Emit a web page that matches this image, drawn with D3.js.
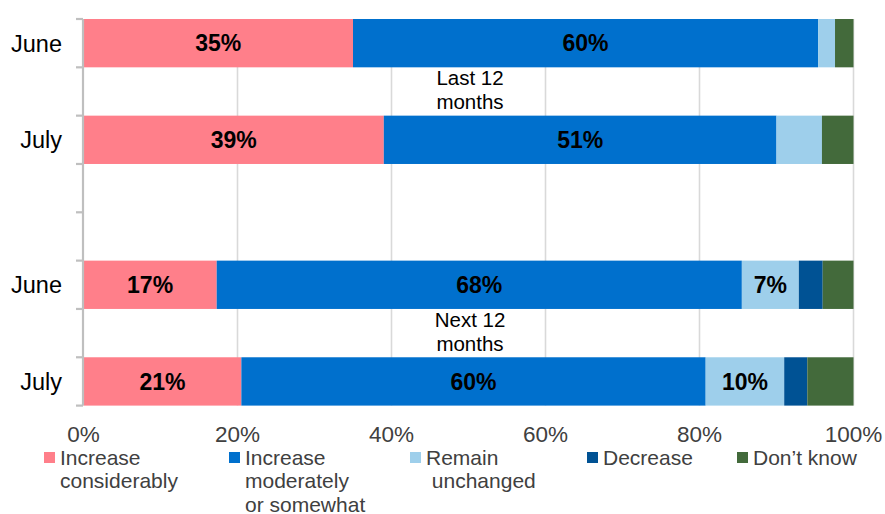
<!DOCTYPE html>
<html><head><meta charset="utf-8">
<script src="https://cdn.jsdelivr.net/npm/d3@7"></script>
<style>html,body{margin:0;padding:0;background:#fff;}svg{display:block;font-family:"Liberation Sans",Arial,sans-serif;}</style>
</head><body><svg id="c" width="885" height="514"></svg>
<script>
// ---- data ----
const rowCategories = ["June (last)", "Last 12 months", "July (last)", "gap a", "gap b", "June (next)", "Next 12 months", "July (next)"];
const barRows = ["June (last)", "July (last)", "June (next)", "July (next)"];
const barRowLabels = ["June", "July", "June", "July"];
const periodLabels = [["Last 12", "months"], ["Next 12", "months"]];
const periodRows = ["Last 12 months", "Next 12 months"];
const seriesNames = ["Increase considerably", "Increase moderately or somewhat", "Remain unchanged", "Decrease", "Don’t know"];
const legendLines = [["Increase", "considerably"], ["Increase", "moderately", "or somewhat"], ["Remain", " unchanged"], ["Decrease"], ["Don’t know"]];
const increaseConsiderably = [35, 39, 17.3, 20.5];
const increaseModerately   = [60.4, 51, 68.2, 60.3];
const remainUnchanged      = [2.2, 5.9, 7.4, 10.2];
const decrease             = [0, 0, 3.1, 3.0];
const dontKnow             = [2.4, 4.1, 4.0, 6.0];
const xTicks = [0, 20, 40, 60, 80, 100];
const colors = ["#ff7f8a", "#0070cd", "#9ecfeb", "#005294", "#436a3b"];

// ---- build table ----
const seriesValues = [increaseConsiderably, increaseModerately, remainUnchanged, decrease, dontKnow];
const table = barRows.map((r, i) => {
  const o = {row: r};
  seriesNames.forEach((s, j) => o[s] = seriesValues[j][i]);
  return o;
});

const svg = d3.select("#c");
const x = d3.scaleLinear().domain([0, 100]).range([83.5, 853.5]);
const y = d3.scaleBand().domain(rowCategories).range([19, 405.6]).padding(0);
const color = d3.scaleOrdinal().domain(seriesNames).range(colors);

// gridlines
svg.append("g").selectAll("line").data(xTicks.filter(d => d > 0)).join("line")
  .attr("x1", d => x(d)).attr("x2", d => x(d))
  .attr("y1", y.range()[0]).attr("y2", y.range()[1])
  .attr("stroke", "#d9d9d9").attr("stroke-width", 1.6);

// bars
const stacked = d3.stack().keys(seriesNames)(table);
const g = svg.append("g");
stacked.forEach(layer => {
  g.append("g").selectAll("rect").data(layer).join("rect")
    .attr("x", d => x(d[0]))
    .attr("width", d => x(d[1]) - x(d[0]))
    .attr("y", d => y(d.data.row))
    .attr("height", y.bandwidth())
    .attr("fill", color(layer.key));
});
// bar labels
stacked.forEach(layer => {
  g.append("g").selectAll("text").data(layer.filter(d => d[1] - d[0] >= 7)).join("text")
    .attr("x", d => (x(d[0]) + x(d[1])) / 2)
    .attr("y", d => y(d.data.row) + y.bandwidth() / 2)
    .attr("dy", "0.36em")
    .attr("text-anchor", "middle")
    .attr("font-weight", "bold").attr("font-size", 23).attr("fill", "#000")
    .text(d => Math.round(d[1] - d[0]) + "%");
});

// left axis
const ax = svg.append("g").attr("stroke", "#bfbfbf").attr("stroke-width", 2.2);
ax.append("line").attr("x1", x(0) - 0.5).attr("x2", x(0) - 0.5)
  .attr("y1", y.range()[0]).attr("y2", y.range()[1]);
const bounds = rowCategories.map(c => y(c)).concat([y.range()[1]]);
ax.selectAll("line.t").data(bounds).join("line").attr("class", "t")
  .attr("x1", x(0) - 7.5).attr("x2", x(0) - 0.5)
  .attr("y1", d => d).attr("y2", d => d);

// category labels
svg.append("g").selectAll("text").data(barRows).join("text")
  .attr("x", 62).attr("y", d => y(d) + y.bandwidth() / 2).attr("dy", "0.36em")
  .attr("text-anchor", "end").attr("font-size", 23.5).attr("fill", "#000")
  .text((d, i) => barRowLabels[i]);

// period annotations
periodRows.forEach((p, i) => {
  const t = svg.append("text").attr("text-anchor", "middle").attr("font-size", 20.5).attr("fill", "#000");
  periodLabels[i].forEach((ln, k) => {
    t.append("tspan").attr("x", 470).attr("y", y(p) + y.bandwidth() / 2 - 6 + k * 24).text(ln);
  });
});

// x tick labels
svg.append("g").selectAll("text").data(xTicks).join("text")
  .attr("x", d => x(d)).attr("y", 442)
  .attr("text-anchor", "middle").attr("font-size", 22.5).attr("fill", "#404040")
  .text(d => d + "%");

// legend
const legendX = [44, 229, 410, 587, 737];
const lg = svg.append("g");
seriesNames.forEach((s, i) => {
  lg.append("rect").attr("x", legendX[i]).attr("y", 452).attr("width", 11).attr("height", 11).attr("fill", colors[i]);
  const t = lg.append("text").attr("font-size", 21).attr("fill", "#404040");
  legendLines[i].forEach((ln, k) => {
    t.append("tspan").attr("x", legendX[i] + 16).attr("y", 464.5 + k * 23.5).attr("xml:space", "preserve").text(ln);
  });
});
</script></body></html>
